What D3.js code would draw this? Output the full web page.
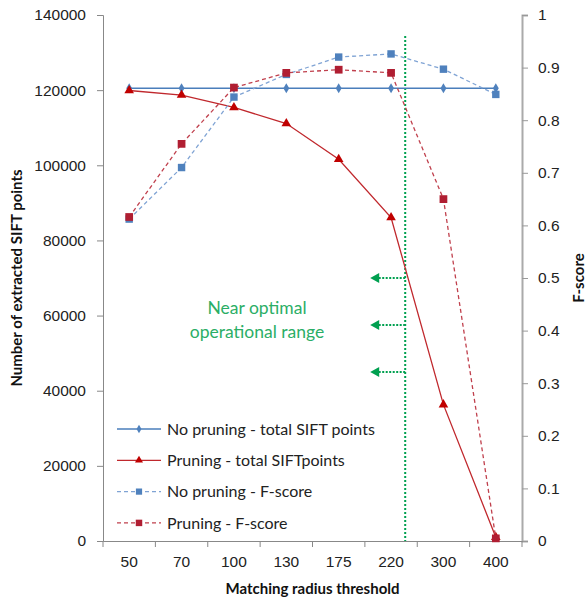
<!DOCTYPE html>
<html>
<head>
<meta charset="utf-8">
<script src="https://cdn.jsdelivr.net/npm/d3@7"></script>
<style>
  body { margin: 0; background: #fff; }
  svg { font-family: Lato, "Open Sans", sans-serif; }
  .tick-label { font-size: 15.5px; fill: #222; }
</style>
</head>
<body>
<svg id="chart" width="587" height="600"></svg>
<script>
// data
const radius = ["50", "70", "100", "130", "175", "220", "300", "400"];
const noPruneTotal = [120500, 120500, 120500, 120500, 120500, 120500, 120500, 120500];
const pruneTotal = [119900, 118700, 115400, 111100, 101600, 86100, 36300, 1000];
const noPruneF = [0.612, 0.710, 0.844, 0.887, 0.920, 0.926, 0.897, 0.849];
const pruneF = [0.616, 0.755, 0.862, 0.890, 0.896, 0.890, 0.650, 0.005];
const leftTicks = [0, 20000, 40000, 60000, 80000, 100000, 120000, 140000];
const rightTicks = [0, 0.1, 0.2, 0.3, 0.4, 0.5, 0.6, 0.7, 0.8, 0.9, 1];
const arrowLevels = [70000, 57500, 45000];

const svg = d3.select("#chart");
const margin = { top: 15, left: 103, right: 65, bottom: 59 };
const width = 587, height = 600;

const x = d3.scaleBand().domain(radius).range([margin.left, width - margin.right]).padding(0);
const yL = d3.scaleLinear().domain([0, 140000]).range([height - margin.bottom, margin.top]);
const yR = d3.scaleLinear().domain([0, 1]).range([height - margin.bottom, margin.top]);
const cx = (d) => x(d) + x.bandwidth() / 2;
const baseY = height - margin.bottom;

// axes
const gL = svg.append("g").attr("transform", `translate(${margin.left},0)`)
  .call(d3.axisLeft(yL).tickValues(leftTicks).tickSize(6).tickPadding(11).tickFormat(d3.format("d")));
gL.selectAll("line, path").attr("stroke", "#888");
gL.selectAll("text").attr("class", "tick-label").attr("font-family", null).attr("font-size", null);

const gR = svg.append("g").attr("transform", `translate(${width - margin.right},0)`)
  .call(d3.axisRight(yR).tickValues(rightTicks).tickSize(6).tickPadding(10).tickFormat((d) => d3.format("")(+d.toFixed(1))));
gR.select("path").attr("stroke", "#aaa").attr("stroke-width", 2);
gR.selectAll("line").attr("stroke", "#999");
gR.selectAll("text").attr("class", "tick-label").attr("font-family", null).attr("font-size", null);

const gB = svg.append("g").attr("transform", `translate(0,${baseY})`)
  .call(d3.axisBottom(x).tickSize(0).tickPadding(15));
gB.select("path").attr("stroke", "#888");
gB.selectAll("text").attr("class", "tick-label").attr("font-family", null).attr("font-size", null);
// category boundary ticks
gB.selectAll(".bnd").data(radius.concat(["end"])).join("line")
  .attr("x1", (d) => d === "end" ? x.range()[1] : x(d))
  .attr("x2", (d) => d === "end" ? x.range()[1] : x(d))
  .attr("y1", 0).attr("y2", 6).attr("stroke", "#888");

// axis titles
svg.append("text").attr("x", (x.range()[0] + x.range()[1]) / 2).attr("y", 594)
  .attr("text-anchor", "middle").attr("font-weight", "bold").attr("font-size", 15).attr("fill", "#111")
  .text("Matching radius threshold");
svg.append("text").attr("transform", `translate(22,${(margin.top + baseY) / 2}) rotate(-90)`)
  .attr("text-anchor", "middle").attr("font-weight", "bold").attr("font-size", 15).attr("fill", "#111")
  .text("Number of extracted SIFT points");
svg.append("text").attr("transform", `translate(584,${(margin.top + baseY) / 2}) rotate(-90)`)
  .attr("text-anchor", "middle").attr("font-weight", "bold").attr("font-size", 15).attr("fill", "#111")
  .text("F-score");

// guide line + arrows
const guideX = x("220") + x.bandwidth() * 0.77;
const green = "#00A050";
svg.append("line").attr("x1", guideX).attr("x2", guideX).attr("y1", yR(0.96)).attr("y2", baseY)
  .attr("stroke", green).attr("stroke-width", 2).attr("stroke-dasharray", "2,2");
arrowLevels.forEach((v) => {
  const y = yL(v);
  svg.append("line").attr("x1", guideX).attr("x2", guideX - 27).attr("y1", y).attr("y2", y)
    .attr("stroke", green).attr("stroke-width", 2).attr("stroke-dasharray", "2,1.5");
  svg.append("path").attr("d", `M${guideX - 35},${y} L${guideX - 26},${y - 5} L${guideX - 26},${y + 5} Z`)
    .attr("fill", green);
});
const note = svg.append("text").attr("text-anchor", "middle").attr("font-size", 17.5).attr("fill", "#2BAE66");
note.append("tspan").attr("x", 257).attr("y", 314).text("Near optimal");
note.append("tspan").attr("x", 257).attr("y", 338).text("operational range");

// series
const series = [
  { name: "No pruning - total SIFT points", vals: noPruneTotal, y: yL, line: "#4A7EBB", dash: null, marker: "diamond", mcol: "#4F81BD", msize: 30 },
  { name: "Pruning - total SIFTpoints", vals: pruneTotal, y: yL, line: "#C0282D", dash: null, marker: "triangle", mcol: "#C00000", msize: 40 },
  { name: "No pruning - F-score", vals: noPruneF, y: yR, line: "#7FA3D4", dash: "4,3", marker: "square", mcol: "#4F81BD", msize: 55 },
  { name: "Pruning - F-score", vals: pruneF, y: yR, line: "#C0404D", dash: "4,3", marker: "square", mcol: "#B01E32", msize: 60 }
];
const symType = { diamond: d3.symbolDiamond, triangle: d3.symbolTriangle, square: d3.symbolSquare };

series.forEach((s) => {
  const line = d3.line().x((d, i) => cx(radius[i])).y((d) => s.y(d));
  svg.append("path").datum(s.vals).attr("d", line).attr("fill", "none")
    .attr("stroke", s.line).attr("stroke-width", 1.3).attr("stroke-dasharray", s.dash);
  svg.append("g").selectAll("path").data(s.vals).join("path")
    .attr("transform", (d, i) => `translate(${cx(radius[i])},${s.y(d)})`)
    .attr("d", d3.symbol(symType[s.marker], s.msize)).attr("fill", s.mcol);
});

// legend
const lg = svg.append("g");
series.forEach((s, i) => {
  const y = 429 + i * 31.3;
  lg.append("line").attr("x1", 117).attr("x2", 161).attr("y1", y).attr("y2", y)
    .attr("stroke", s.line).attr("stroke-width", 1.3).attr("stroke-dasharray", s.dash);
  lg.append("path").attr("transform", `translate(139,${y})`)
    .attr("d", d3.symbol(symType[s.marker], s.msize * 0.7)).attr("fill", s.mcol);
  lg.append("text").attr("x", 167).attr("y", y).attr("dy", "0.35em")
    .attr("font-size", 16).attr("fill", "#222").text(s.name);
});
</script>
</body>
</html>
